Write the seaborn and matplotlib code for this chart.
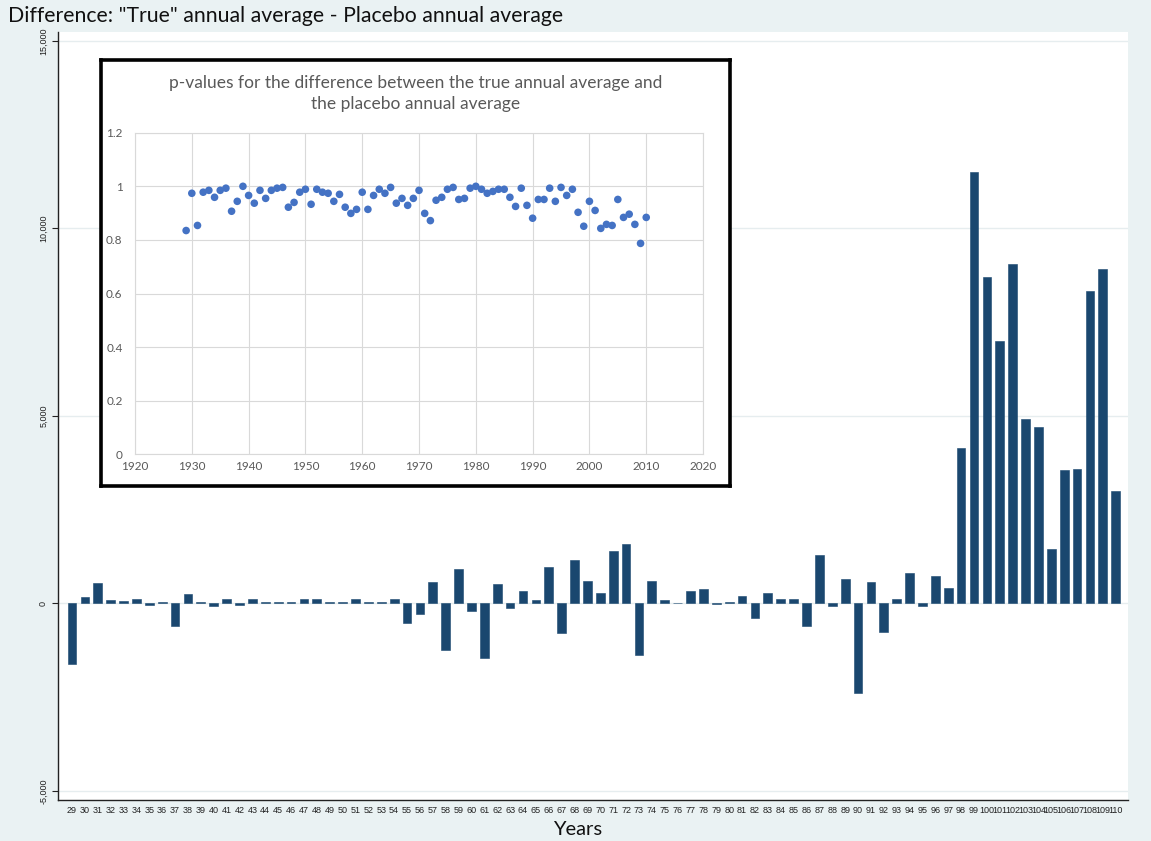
import numpy as np
import pandas as pd
import matplotlib
matplotlib.use("Agg")
import matplotlib.pyplot as plt
from matplotlib.ticker import FuncFormatter
import seaborn as sns

# Difference between the "true" annual average and the placebo annual average, 1929-2010
year_labels = [str(y) for y in range(29, 111)]
difference = [
    -1610, 160, 540, 100, 70, 130, -50, 30, -590, 240,      # 29-38
    30, -80, 130, -30, 110, 30, 30, 30, 130, 110,            # 39-48
    50, 30, 130, 30, 50, 130, -530, -270, 560, -1250,        # 49-58
    930, -190, -1450, 520, -110, 320, 80, 970, -800, 1160,   # 59-68
    610, 270, 1400, 1580, -1370, 590, 100, 20, 320, 380,     # 69-78
    -20, 30, 190, -400, 280, 110, 110, -590, 1290, -80,      # 79-88
    650, -2380, 560, -750, 130, 810, -60, 740, 410, 4150,    # 89-98
    11500, 8700, 7010, 9060, 4930, 4710, 1450, 3550, 3590, 8320,  # 99-108
    8920, 2990,                                              # 109-110
]

# p-values of that difference, by calendar year
pval_years = list(range(1929, 2011))
pvalues = [
    0.835, 0.974, 0.854, 0.978, 0.985, 0.959, 0.985, 0.993, 0.907, 0.944,
    1.000, 0.966, 0.937, 0.985, 0.955, 0.985, 0.993, 0.996, 0.922, 0.940,
    0.978, 0.989, 0.933, 0.989, 0.978, 0.974, 0.944, 0.970, 0.922, 0.899,
    0.914, 0.978, 0.914, 0.966, 0.989, 0.974, 0.996, 0.937, 0.955, 0.929,
    0.955, 0.985, 0.899, 0.872, 0.948, 0.959, 0.989, 0.996, 0.951, 0.955,
    0.993, 1.000, 0.989, 0.974, 0.981, 0.989, 0.989, 0.959, 0.925, 0.993,
    0.929, 0.881, 0.951, 0.951, 0.993, 0.944, 0.996, 0.966, 0.989, 0.903,
    0.851, 0.944, 0.910, 0.843, 0.858, 0.854, 0.951, 0.884, 0.896, 0.858,
    0.787, 0.884,
]

y_ticks = [-5000, 0, 5000, 10000, 15000]
y_tick_labels = ["-5,000", "0", "5,000", "10,000", "15,000"]

main_df = pd.DataFrame({"year": year_labels, "difference": difference})
pval_df = pd.DataFrame({"year": pval_years, "p": pvalues})

sns.set_style("ticks")
plt.rcParams["font.family"] = ["Liberation Sans", "DejaVu Sans"]

BG = "#EAF2F3"
NAVY = "#1A476F"

fig = plt.figure(figsize=(11.51, 8.41), dpi=100, facecolor=BG)

# ---- main bar chart ----
ax = fig.add_axes([0.0508, 0.0488, 0.9292, 0.9132])
ax.set_facecolor("white")
sns.barplot(data=main_df, x="year", y="difference", color=NAVY, saturation=1,
            width=0.68, edgecolor=NAVY, linewidth=0.4, ax=ax, zorder=3)
ax.set_xlim(-1.05, 81.95)
ax.set_ylim(-5240, 15240)
ax.set_yticks(y_ticks)
ax.set_yticklabels(y_tick_labels, rotation=90, va="center", fontsize=6.5)
ax.tick_params(axis="y", length=4, width=0.8, pad=3.5, colors="#222222")
ax.tick_params(axis="x", length=0, pad=4.5, labelsize=6.5, colors="#222222")
ax.yaxis.grid(True, color="#E6EDEF", linewidth=1.0, zorder=0)
ax.xaxis.grid(False)
ax.set_axisbelow(True)
for side in ("top", "right"):
    ax.spines[side].set_visible(False)
for side in ("left", "bottom"):
    ax.spines[side].set_color("#222222")
    ax.spines[side].set_linewidth(1.0)
ax.set_ylabel("")
ax.set_xlabel("Years", fontsize=14.5, family=["Lato", "DejaVu Sans"], color="#111111", va="center")
ax.xaxis.set_label_coords(0.4857, -0.039)

fig.text(0.007, 0.981, 'Difference: "True" annual average - Placebo annual average',
         fontsize=15.3, family=["Lato", "DejaVu Sans"], color="#111111",
         ha="left", va="center")

# ---- inset: p-values scatter ----
box = fig.add_axes([0.0877, 0.4221, 0.5465, 0.5066])
box.set_facecolor("white")
box.set_xticks([])
box.set_yticks([])
for s in box.spines.values():
    s.set_color("black")
    s.set_linewidth(2.6)
box.text(0.5, 0.921,
         "p-values for the difference between the true annual average and\nthe placebo annual average",
         transform=box.transAxes, ha="center", va="center", fontsize=12.5,
         linespacing=1.35, color="#595959", family=["Lato", "DejaVu Sans"])

ax_in = fig.add_axes([0.1173, 0.4598, 0.4935, 0.3824])
ax_in.set_facecolor("white")
sns.scatterplot(data=pval_df, x="year", y="p", color="#4472C4", s=30,
                edgecolor="none", ax=ax_in, zorder=3)
ax_in.set_xlim(1920, 2020)
ax_in.set_ylim(0, 1.2)
ax_in.set_xticks(np.arange(1920, 2021, 10))
ax_in.set_yticks(np.arange(0, 1.21, 0.2))
ax_in.yaxis.set_major_formatter(FuncFormatter(lambda v, _: f"{v:g}"))
ax_in.grid(True, color="#D9D9D9", linewidth=0.8, zorder=0)
ax_in.set_axisbelow(True)
for s in ax_in.spines.values():
    s.set_color("#D9D9D9")
    s.set_linewidth(0.8)
ax_in.tick_params(axis="both", length=0, labelsize=8.5, colors="#595959")
ax_in.tick_params(axis="x", pad=5)
ax_in.tick_params(axis="y", pad=9)
for lbl in ax_in.get_xticklabels() + ax_in.get_yticklabels():
    lbl.set_family(["Lato", "DejaVu Sans"])
ax_in.set_xlabel("")
ax_in.set_ylabel("")

fig.savefig("out.png", dpi=100, facecolor=BG)
